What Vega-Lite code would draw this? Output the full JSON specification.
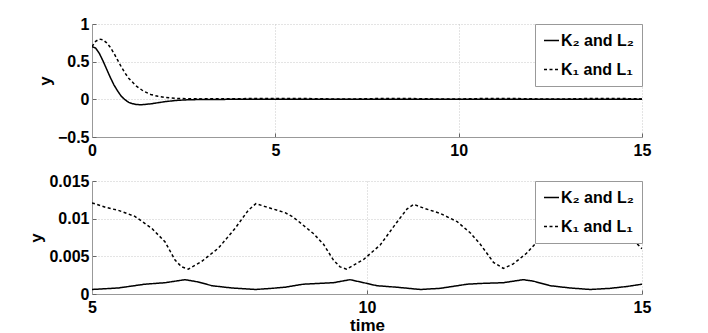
{
  "$schema": "https://vega.github.io/schema/vega-lite/v6.json",
  "background": "white",
  "padding": {"left": 27, "top": 16, "right": 5, "bottom": 0},
  "spacing": 15,
  "datasets": {
    "d": [
      {"t": 0, "y": 0.70, "s": "K₂ and L₂"},
      {"t": 0.1, "y": 0.68, "s": "K₂ and L₂"},
      {"t": 0.2, "y": 0.61, "s": "K₂ and L₂"},
      {"t": 0.3, "y": 0.51, "s": "K₂ and L₂"},
      {"t": 0.4, "y": 0.40, "s": "K₂ and L₂"},
      {"t": 0.5, "y": 0.29, "s": "K₂ and L₂"},
      {"t": 0.6, "y": 0.19, "s": "K₂ and L₂"},
      {"t": 0.7, "y": 0.11, "s": "K₂ and L₂"},
      {"t": 0.8, "y": 0.04, "s": "K₂ and L₂"},
      {"t": 0.9, "y": -0.005, "s": "K₂ and L₂"},
      {"t": 1.0, "y": -0.04, "s": "K₂ and L₂"},
      {"t": 1.1, "y": -0.058, "s": "K₂ and L₂"},
      {"t": 1.2, "y": -0.067, "s": "K₂ and L₂"},
      {"t": 1.3, "y": -0.071, "s": "K₂ and L₂"},
      {"t": 1.4, "y": -0.07, "s": "K₂ and L₂"},
      {"t": 1.6, "y": -0.06, "s": "K₂ and L₂"},
      {"t": 1.8, "y": -0.045, "s": "K₂ and L₂"},
      {"t": 2.0, "y": -0.03, "s": "K₂ and L₂"},
      {"t": 2.3, "y": -0.015, "s": "K₂ and L₂"},
      {"t": 2.6, "y": -0.006, "s": "K₂ and L₂"},
      {"t": 3.0, "y": -0.002, "s": "K₂ and L₂"},
      {"t": 4.0, "y": 0.0003, "s": "K₂ and L₂"},
      {"t": 5.0, "y": 0.0006, "s": "K₂ and L₂"},
      {"t": 5.48, "y": 0.0008, "s": "K₂ and L₂"},
      {"t": 5.96, "y": 0.0013, "s": "K₂ and L₂"},
      {"t": 6.33, "y": 0.0015, "s": "K₂ and L₂"},
      {"t": 6.69, "y": 0.0019, "s": "K₂ and L₂"},
      {"t": 6.93, "y": 0.0016, "s": "K₂ and L₂"},
      {"t": 7.18, "y": 0.0011, "s": "K₂ and L₂"},
      {"t": 7.54, "y": 0.0008, "s": "K₂ and L₂"},
      {"t": 7.97, "y": 0.0006, "s": "K₂ and L₂"},
      {"t": 8.27, "y": 0.00075, "s": "K₂ and L₂"},
      {"t": 8.51, "y": 0.0009, "s": "K₂ and L₂"},
      {"t": 8.84, "y": 0.0013, "s": "K₂ and L₂"},
      {"t": 9.39, "y": 0.0015, "s": "K₂ and L₂"},
      {"t": 9.69, "y": 0.0019, "s": "K₂ and L₂"},
      {"t": 9.94, "y": 0.0015, "s": "K₂ and L₂"},
      {"t": 10.18, "y": 0.0011, "s": "K₂ and L₂"},
      {"t": 10.54, "y": 0.0009, "s": "K₂ and L₂"},
      {"t": 10.97, "y": 0.0006, "s": "K₂ and L₂"},
      {"t": 11.33, "y": 0.00075, "s": "K₂ and L₂"},
      {"t": 11.82, "y": 0.0013, "s": "K₂ and L₂"},
      {"t": 12.06, "y": 0.0014, "s": "K₂ and L₂"},
      {"t": 12.48, "y": 0.0015, "s": "K₂ and L₂"},
      {"t": 12.84, "y": 0.0019, "s": "K₂ and L₂"},
      {"t": 13.03, "y": 0.0017, "s": "K₂ and L₂"},
      {"t": 13.33, "y": 0.0011, "s": "K₂ and L₂"},
      {"t": 13.69, "y": 0.0008, "s": "K₂ and L₂"},
      {"t": 14.06, "y": 0.0006, "s": "K₂ and L₂"},
      {"t": 14.42, "y": 0.00075, "s": "K₂ and L₂"},
      {"t": 14.73, "y": 0.001, "s": "K₂ and L₂"},
      {"t": 15.0, "y": 0.0013, "s": "K₂ and L₂"},
      {"t": 0, "y": 0.70, "s": "K₁ and L₁"},
      {"t": 0.1, "y": 0.77, "s": "K₁ and L₁"},
      {"t": 0.2, "y": 0.80, "s": "K₁ and L₁"},
      {"t": 0.3, "y": 0.79, "s": "K₁ and L₁"},
      {"t": 0.4, "y": 0.75, "s": "K₁ and L₁"},
      {"t": 0.5, "y": 0.69, "s": "K₁ and L₁"},
      {"t": 0.6, "y": 0.61, "s": "K₁ and L₁"},
      {"t": 0.7, "y": 0.52, "s": "K₁ and L₁"},
      {"t": 0.8, "y": 0.43, "s": "K₁ and L₁"},
      {"t": 0.9, "y": 0.35, "s": "K₁ and L₁"},
      {"t": 1.0, "y": 0.28, "s": "K₁ and L₁"},
      {"t": 1.2, "y": 0.18, "s": "K₁ and L₁"},
      {"t": 1.4, "y": 0.11, "s": "K₁ and L₁"},
      {"t": 1.6, "y": 0.065, "s": "K₁ and L₁"},
      {"t": 1.8, "y": 0.04, "s": "K₁ and L₁"},
      {"t": 2.0, "y": 0.025, "s": "K₁ and L₁"},
      {"t": 2.3, "y": 0.013, "s": "K₁ and L₁"},
      {"t": 2.6, "y": 0.008, "s": "K₁ and L₁"},
      {"t": 3.0, "y": 0.006, "s": "K₁ and L₁"},
      {"t": 4.0, "y": 0.009, "s": "K₁ and L₁"},
      {"t": 5.0, "y": 0.0121, "s": "K₁ and L₁"},
      {"t": 5.25, "y": 0.0115, "s": "K₁ and L₁"},
      {"t": 5.48, "y": 0.0111, "s": "K₁ and L₁"},
      {"t": 5.78, "y": 0.0103, "s": "K₁ and L₁"},
      {"t": 6.09, "y": 0.0087, "s": "K₁ and L₁"},
      {"t": 6.33, "y": 0.0069, "s": "K₁ and L₁"},
      {"t": 6.51, "y": 0.0045, "s": "K₁ and L₁"},
      {"t": 6.63, "y": 0.0036, "s": "K₁ and L₁"},
      {"t": 6.75, "y": 0.0033, "s": "K₁ and L₁"},
      {"t": 6.99, "y": 0.0043, "s": "K₁ and L₁"},
      {"t": 7.30, "y": 0.0061, "s": "K₁ and L₁"},
      {"t": 7.6, "y": 0.0087, "s": "K₁ and L₁"},
      {"t": 7.84, "y": 0.0111, "s": "K₁ and L₁"},
      {"t": 7.98, "y": 0.0120, "s": "K₁ and L₁"},
      {"t": 8.15, "y": 0.0116, "s": "K₁ and L₁"},
      {"t": 8.51, "y": 0.0108, "s": "K₁ and L₁"},
      {"t": 8.66, "y": 0.0102, "s": "K₁ and L₁"},
      {"t": 9.03, "y": 0.0080, "s": "K₁ and L₁"},
      {"t": 9.21, "y": 0.0066, "s": "K₁ and L₁"},
      {"t": 9.39, "y": 0.0045, "s": "K₁ and L₁"},
      {"t": 9.51, "y": 0.0036, "s": "K₁ and L₁"},
      {"t": 9.63, "y": 0.0033, "s": "K₁ and L₁"},
      {"t": 9.94, "y": 0.0046, "s": "K₁ and L₁"},
      {"t": 10.24, "y": 0.0065, "s": "K₁ and L₁"},
      {"t": 10.54, "y": 0.0095, "s": "K₁ and L₁"},
      {"t": 10.73, "y": 0.0113, "s": "K₁ and L₁"},
      {"t": 10.85, "y": 0.0119, "s": "K₁ and L₁"},
      {"t": 11.03, "y": 0.0114, "s": "K₁ and L₁"},
      {"t": 11.33, "y": 0.0107, "s": "K₁ and L₁"},
      {"t": 11.64, "y": 0.0096, "s": "K₁ and L₁"},
      {"t": 11.88, "y": 0.0081, "s": "K₁ and L₁"},
      {"t": 12.06, "y": 0.0066, "s": "K₁ and L₁"},
      {"t": 12.30, "y": 0.0042, "s": "K₁ and L₁"},
      {"t": 12.48, "y": 0.0034, "s": "K₁ and L₁"},
      {"t": 12.66, "y": 0.0040, "s": "K₁ and L₁"},
      {"t": 12.9, "y": 0.0054, "s": "K₁ and L₁"},
      {"t": 13.09, "y": 0.0069, "s": "K₁ and L₁"},
      {"t": 13.4, "y": 0.0093, "s": "K₁ and L₁"},
      {"t": 13.6, "y": 0.0113, "s": "K₁ and L₁"},
      {"t": 13.72, "y": 0.0120, "s": "K₁ and L₁"},
      {"t": 13.9, "y": 0.0116, "s": "K₁ and L₁"},
      {"t": 14.25, "y": 0.0108, "s": "K₁ and L₁"},
      {"t": 14.55, "y": 0.0095, "s": "K₁ and L₁"},
      {"t": 14.75, "y": 0.0082, "s": "K₁ and L₁"},
      {"t": 14.88, "y": 0.0069, "s": "K₁ and L₁"},
      {"t": 15.0, "y": 0.0060, "s": "K₁ and L₁"}
    ]
  },
  "resolve": {
    "scale": {"x": "independent", "y": "independent", "strokeDash": "independent"},
    "legend": {"strokeDash": "independent"}
  },
  "vconcat": [
    {
      "width": 550,
      "height": 113,
      "data": {"name": "d"},
      "mark": {"type": "line", "color": "black", "strokeWidth": 1.5, "clip": true},
      "encoding": {
        "x": {"field": "t", "type": "quantitative", "scale": {"domain": [0, 15], "nice": false, "zero": false}, "axis": {"values": [0, 5, 10, 15], "title": null}},
        "y": {"field": "y", "type": "quantitative", "scale": {"domain": [-0.5, 1], "nice": false, "zero": false}, "axis": {"values": [-0.5, 0, 0.5, 1], "title": "y", "format": "~g"}},
        "strokeDash": {"field": "s", "type": "nominal", "scale": {"domain": ["K₂ and L₂", "K₁ and L₁"], "range": [[1, 0], [3, 2.5]]},
          "legend": {"title": null, "orient": "top-right", "offset": 0, "zindex": 1, "symbolType": "stroke", "symbolSize": 225, "symbolStrokeWidth": 1.5, "symbolStrokeColor": "black", "labelFont": "Liberation Sans", "labelFontSize": 16, "labelFontWeight": "bold", "labelColor": "black", "labelOffset": 1, "strokeColor": "#999999", "fillColor": "white", "padding": 8, "rowPadding": 12}}
      }
    },
    {
      "width": 550,
      "height": 113,
      "data": {"name": "d"},
      "transform": [{"filter": "datum.t >= 5"}],
      "mark": {"type": "line", "color": "black", "strokeWidth": 1.5, "clip": true},
      "encoding": {
        "x": {"field": "t", "type": "quantitative", "scale": {"domain": [5, 15], "nice": false, "zero": false}, "axis": {"values": [5, 10, 15], "title": "time", "titlePadding": 2}},
        "y": {"field": "y", "type": "quantitative", "scale": {"domain": [0, 0.015], "nice": false, "zero": false}, "axis": {"values": [0, 0.005, 0.01, 0.015], "title": "y", "format": ".3~f"}},
        "strokeDash": {"field": "s", "type": "nominal", "scale": {"domain": ["K₂ and L₂", "K₁ and L₁"], "range": [[1, 0], [3, 2.5]]},
          "legend": {"title": null, "orient": "top-right", "offset": 0, "zindex": 1, "symbolType": "stroke", "symbolSize": 225, "symbolStrokeWidth": 1.5, "symbolStrokeColor": "black", "labelFont": "Liberation Sans", "labelFontSize": 16, "labelFontWeight": "bold", "labelColor": "black", "labelOffset": 1, "strokeColor": "#999999", "fillColor": "white", "padding": 8, "rowPadding": 12}}
      }
    }
  ],
  "config": {
    "font": "Liberation Sans",
    "view": {"stroke": null},
    "axis": {
      "labelFont": "Liberation Sans", "labelFontSize": 16, "labelFontWeight": "bold", "labelColor": "black",
      "titleFont": "Liberation Sans", "titleFontSize": 17, "titleFontWeight": "bold", "titleColor": "black",
      "domainColor": "#999999", "domainWidth": 1,
      "tickColor": "#666666", "tickSize": -4,
      "grid": true, "gridColor": "#c8c8c8", "gridDash": [1, 2], "gridWidth": 1
    },
    "axisX": {"labelFlush": false, "labelPadding": 9},
    "axisY": {"labelPadding": 7, "titlePadding": 3}
  }
}
